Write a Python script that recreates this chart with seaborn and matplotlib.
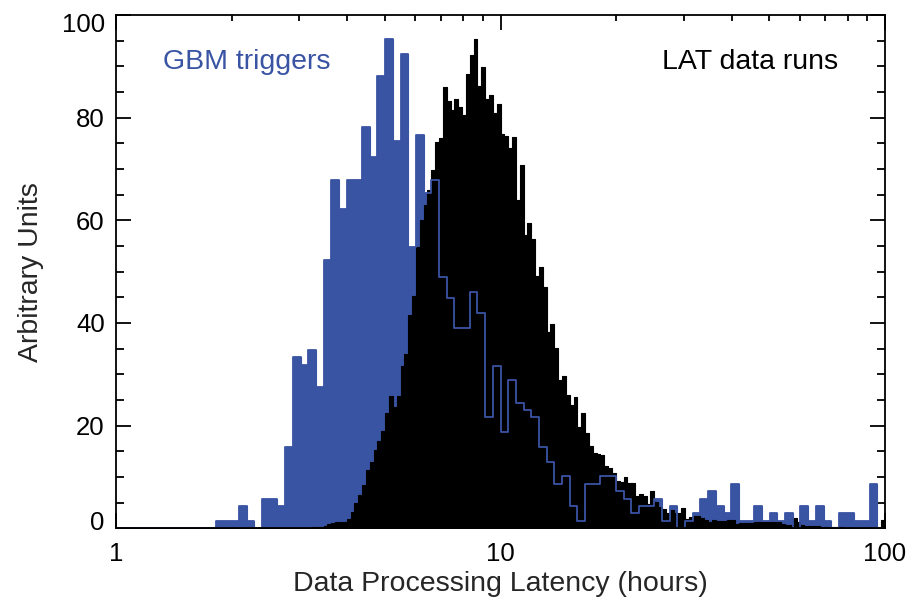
import numpy as np
import seaborn as sns
import matplotlib.pyplot as plt
import matplotlib.transforms as mtransforms
from matplotlib.ticker import FixedLocator, FixedFormatter, MultipleLocator, NullFormatter, LogLocator

# GBM triggers: 100 log-spaced bins from 1 h to 100 h (0.02 dex each)
gbm_values = [
    0, 0, 0, 0, 0, 0, 0, 0, 0, 0,
    0, 0, 0, 1.4, 1.4, 1.4, 4.3, 1.4, 0, 5.8,
    5.8, 4.3, 15.9, 33.3, 31.8, 34.8, 27.5, 52.2, 67.9, 62.2,
    67.9, 67.9, 78.1, 72.4, 88.2, 95.4, 75.4, 92.5, 54.9, 76.7,
    65.3, 67.9, 49.0, 44.8, 39.0, 39.0, 46.1, 41.9, 21.6, 31.7,
    18.7, 28.8, 24.5, 23.1, 21.6, 15.9, 12.9, 8.6, 10.1, 4.3,
    1.4, 8.6, 8.6, 10.1, 10.1, 7.2, 5.8, 2.9, 4.3, 4.3,
    5.8, 1.4, 4.3, 0, 1.4, 2.9, 5.8, 7.2, 4.3, 2.9,
    8.6, 1.4, 1.4, 4.3, 1.4, 2.9, 1.4, 2.9, 0, 4.3,
    1.4, 4.3, 1.4, 0, 2.9, 2.9, 1.4, 1.4, 8.6, 0,
]

# LAT data runs: 200 log-spaced bins from 1 h to 100 h (0.01 dex each)
lat_values = [
    0, 0, 0, 0, 0, 0, 0, 0, 0, 0,
    0, 0, 0, 0, 0, 0, 0, 0, 0, 0,
    0, 0, 0, 0, 0, 0, 0, 0, 0, 0,
    0, 0, 0, 0, 0, 0, 0, 0, 0, 0,
    0, 0, 0, 0, 0, 0, 0, 0, 0, 0,
    0, 0.3, 0.3, 0.3, 0.4, 0.8, 1.0, 1.3, 1.3, 1.3,
    1.9, 3.2, 4.9, 6.5, 8.4, 11.4, 13.0, 15.3, 17.1, 19.0,
    22.5, 25.7, 23.7, 25.7, 31.7, 34.0, 41.6, 45.3, 54.9, 60.1,
    63.0, 66.0, 69.8, 75.2, 76.0, 85.9, 83.2, 81.4, 83.6, 82.1,
    80.5, 88.6, 92.3, 95.4, 86.1, 89.8, 83.6, 84.5, 80.9, 82.7,
    76.9, 76.5, 74.0, 76.2, 64.0, 70.8, 57.2, 59.5, 56.3, 49.2,
    51.0, 47.1, 38.3, 39.8, 35.1, 28.9, 29.6, 26.0, 24.0, 25.5,
    19.8, 22.4, 18.5, 16.0, 14.6, 14.5, 14.3, 12.1, 11.8, 10.7,
    9.2, 9.1, 9.9, 8.9, 8.8, 6.3, 6.6, 6.2, 4.8, 7.2,
    5.2, 4.2, 3.7, 3.0, 3.5, 2.9, 3.0, 3.9, 1.8, 2.2,
    2.3, 2.3, 2.0, 1.6, 1.2, 1.7, 1.4, 1.5, 1.4, 1.6,
    1.7, 0.9, 1.1, 1.1, 1.1, 1.0, 1.2, 1.3, 1.3, 1.3,
    1.3, 1.2, 1.2, 0.9, 0.6, 0.6, 2.1, 1.2, 0.6, 0.5,
    0.5, 0.4, 0.4, 0.3, 0.3, 0.3, 0.3, 0.2, 0.2, 0,
    0, 0, 0, 0, 0, 0, 0, 0, 0, 1.6,
]

x_ticks = [1, 10, 100]
x_tick_labels = ["1", "10", "100"]

BLUE = "#3a54a4"

sns.set_theme(style="ticks")
plt.rcParams["font.family"] = ["Liberation Sans", "DejaVu Sans"]

# bin centres in hours (log-spaced)
n_gbm = len(gbm_values)
n_lat = len(lat_values)
gbm_x = 10 ** ((np.arange(n_gbm) + 0.5) * 2.0 / n_gbm)
lat_x = 10 ** ((np.arange(n_lat) + 0.5) * 2.0 / n_lat)

fig = plt.figure(figsize=(9.11, 6.01), dpi=100)
ax = fig.add_axes([0.1273, 0.121, 0.8442, 0.854])

# GBM filled histogram
sns.histplot(x=gbm_x, weights=gbm_values, bins=n_gbm, binrange=(0, 2), log_scale=True,
             element="step", fill=True, color=BLUE, alpha=1, linewidth=0.8,
             edgecolor=BLUE, ax=ax)
# LAT filled histogram on top
sns.histplot(x=lat_x, weights=lat_values, bins=n_lat, binrange=(0, 2), log_scale=True,
             element="step", fill=True, color="black", alpha=1, linewidth=0.8,
             edgecolor="black", ax=ax)
# GBM outline drawn over the black one
sns.histplot(x=gbm_x, weights=gbm_values, bins=n_gbm, binrange=(0, 2), log_scale=True,
             element="step", fill=False, color=BLUE, linewidth=1.3, ax=ax)

ax.set_xlim(1, 100)
ax.set_ylim(0, 100)

ax.xaxis.set_major_locator(FixedLocator(x_ticks))
ax.xaxis.set_major_formatter(FixedFormatter(x_tick_labels))
ax.xaxis.set_minor_locator(LogLocator(base=10, subs=np.arange(2, 10)))
ax.xaxis.set_minor_formatter(NullFormatter())
ax.yaxis.set_major_locator(MultipleLocator(20))
ax.yaxis.set_minor_locator(MultipleLocator(5))

ax.tick_params(which="both", direction="in", top=True, right=True, width=1.3, colors="black")
ax.tick_params(which="major", length=11, labelsize=18.5)
ax.tick_params(axis="x", which="major", pad=10)
ax.tick_params(axis="y", which="major", pad=8)
ax.tick_params(axis="x", which="minor", length=4)
ax.tick_params(axis="y", which="minor", length=5.5)
for s in ax.spines.values():
    s.set_linewidth(1.3)
    s.set_color("black")

ax.set_xlabel("Data Processing Latency (hours)", fontsize=20.5)
ax.set_ylabel("Arbitrary Units", fontsize=20.5)
ax.xaxis.label.set_va("center")
ax.yaxis.label.set_va("center")
ax.xaxis.set_label_coords(0.5, -0.108)
ax.yaxis.set_label_coords(-0.11, 0.5)

ax.text(0.061, 0.908, "GBM triggers", color=BLUE, fontsize=20.5,
        ha="left", va="center", transform=ax.transAxes)
ax.text(0.939, 0.908, "LAT data runs", color="black", fontsize=20.5,
        ha="right", va="center", transform=ax.transAxes)

# nudge the end labels of the y axis inside the frame, like the original
fig.canvas.draw()
up = mtransforms.ScaledTranslation(0, 8 / 100, fig.dpi_scale_trans)
down = mtransforms.ScaledTranslation(0, -7 / 100, fig.dpi_scale_trans)
for tick in ax.yaxis.get_major_ticks():
    loc = tick.get_loc()
    if np.isclose(loc, 0):
        tick.label1.set_transform(tick.label1.get_transform() + up)
    elif np.isclose(loc, 100):
        tick.label1.set_transform(tick.label1.get_transform() + down)

fig.savefig("out.png", dpi=100)
